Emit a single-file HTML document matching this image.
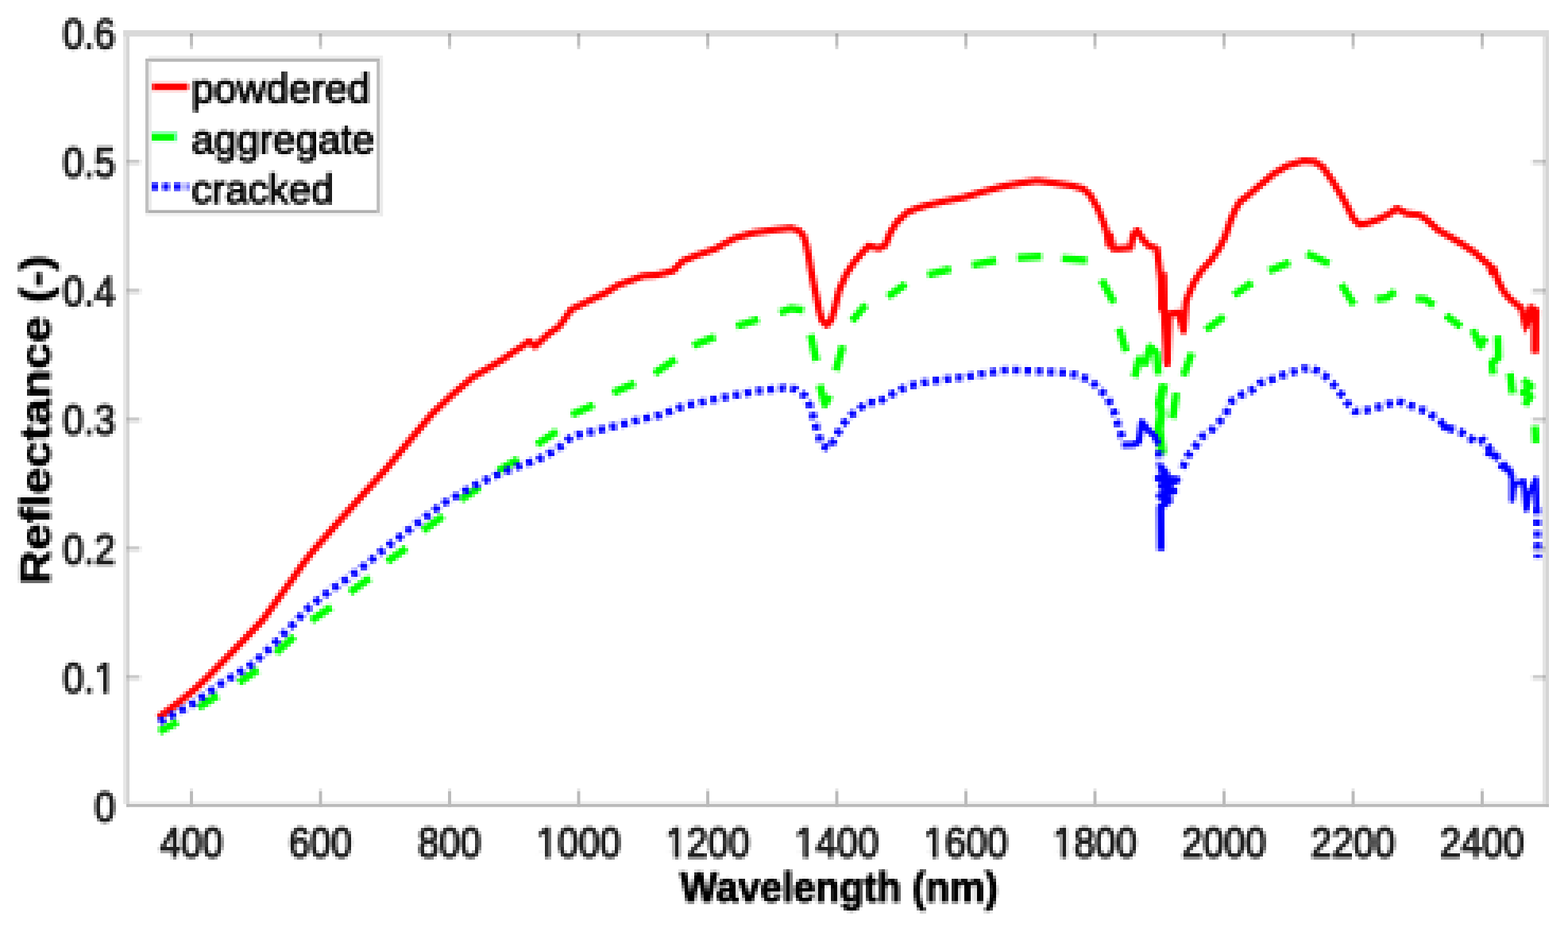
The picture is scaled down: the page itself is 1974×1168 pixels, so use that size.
<!DOCTYPE html>
<html lang="en"><head><meta charset="utf-8"><title>Reflectance spectra</title>
<style>
html,body{margin:0;padding:0;background:#fff;}
body{width:1974px;height:1168px;overflow:hidden;}
svg{display:block;font-family:"Liberation Sans",Arial,Helvetica,sans-serif;}
.tick{fill:#1e1e1e;font-size:54px;stroke:#1e1e1e;stroke-width:2.2px;stroke-linejoin:round;}
.lbl{fill:#000;font-size:54px;font-weight:bold;stroke:#000;stroke-width:1.5px;stroke-linejoin:round;}
.leg{fill:#0a0a0a;font-size:52px;stroke:#0a0a0a;stroke-width:1.9px;stroke-linejoin:round;}
</style></head><body>
<svg width="1974" height="1168" viewBox="0 0 1974 1168">
<defs><filter id="b" filterUnits="userSpaceOnUse" x="0" y="0" width="1976" height="1168" color-interpolation-filters="sRGB">
<feConvolveMatrix in="SourceGraphic" order="4" kernelMatrix="1 1 1 1 1 1 1 1 1 1 1 1 1 1 1 1" divisor="16" targetX="1" targetY="1" edgeMode="none" preserveAlpha="false" result="avg"/>
<feFlood x="3" y="3" width="1" height="1" flood-color="#000"/>
<feComposite x="2" y="2" width="4" height="4"/>
<feTile result="grid"/>
<feComposite in="avg" in2="grid" operator="in" result="sparse"/>
<feConvolveMatrix in="sparse" order="4" kernelMatrix="1 1 1 1 1 1 1 1 1 1 1 1 1 1 1 1" divisor="1" targetX="2" targetY="2" edgeMode="none" preserveAlpha="false"/>
<feGaussianBlur stdDeviation="0.55"/>
</filter><filter id="s" filterUnits="userSpaceOnUse" x="0" y="0" width="1976" height="1168"><feGaussianBlur stdDeviation="0.45"/></filter></defs>
<rect width="1974" height="1168" fill="#fff"/>
<g filter="url(#s)">
<rect x="155.10" y="38.00" width="1794.90" height="8.00" fill="#d9d9d9"/>
<rect x="155.10" y="46.00" width="3.90" height="966.00" fill="#e6e6e6"/>
<rect x="159.00" y="46.00" width="4.00" height="969.70" fill="#d5d5d5"/>
<rect x="1942.00" y="46.00" width="4.00" height="966.00" fill="#e4e4e4"/>
<rect x="1946.00" y="46.00" width="4.00" height="969.70" fill="#d5d5d5"/>
<rect x="163.00" y="1008.30" width="1779.00" height="3.70" fill="#efefef"/>
<rect x="159.00" y="1012.00" width="1791.00" height="3.70" fill="#b9b9b9"/>
<rect x="239.05" y="42.00" width="3.90" height="4.00" fill="#a8a8a8"/>
<rect x="239.05" y="46.00" width="3.90" height="11.80" fill="#bebebe"/>
<rect x="239.05" y="57.80" width="3.90" height="4.00" fill="#d4d4d4"/>
<rect x="239.05" y="992.20" width="3.90" height="3.80" fill="#e6e6e6"/>
<rect x="239.05" y="996.00" width="3.90" height="19.70" fill="#bababa"/>
<rect x="401.55" y="42.00" width="3.90" height="4.00" fill="#a8a8a8"/>
<rect x="401.55" y="46.00" width="3.90" height="11.80" fill="#bebebe"/>
<rect x="401.55" y="57.80" width="3.90" height="4.00" fill="#d4d4d4"/>
<rect x="401.55" y="992.20" width="3.90" height="3.80" fill="#e6e6e6"/>
<rect x="401.55" y="996.00" width="3.90" height="19.70" fill="#bababa"/>
<rect x="564.05" y="42.00" width="3.90" height="4.00" fill="#a8a8a8"/>
<rect x="564.05" y="46.00" width="3.90" height="11.80" fill="#bebebe"/>
<rect x="564.05" y="57.80" width="3.90" height="4.00" fill="#d4d4d4"/>
<rect x="564.05" y="992.20" width="3.90" height="3.80" fill="#e6e6e6"/>
<rect x="564.05" y="996.00" width="3.90" height="19.70" fill="#bababa"/>
<rect x="726.55" y="42.00" width="3.90" height="4.00" fill="#a8a8a8"/>
<rect x="726.55" y="46.00" width="3.90" height="11.80" fill="#bebebe"/>
<rect x="726.55" y="57.80" width="3.90" height="4.00" fill="#d4d4d4"/>
<rect x="726.55" y="992.20" width="3.90" height="3.80" fill="#e6e6e6"/>
<rect x="726.55" y="996.00" width="3.90" height="19.70" fill="#bababa"/>
<rect x="889.05" y="42.00" width="3.90" height="4.00" fill="#a8a8a8"/>
<rect x="889.05" y="46.00" width="3.90" height="11.80" fill="#bebebe"/>
<rect x="889.05" y="57.80" width="3.90" height="4.00" fill="#d4d4d4"/>
<rect x="889.05" y="992.20" width="3.90" height="3.80" fill="#e6e6e6"/>
<rect x="889.05" y="996.00" width="3.90" height="19.70" fill="#bababa"/>
<rect x="1051.55" y="42.00" width="3.90" height="4.00" fill="#a8a8a8"/>
<rect x="1051.55" y="46.00" width="3.90" height="11.80" fill="#bebebe"/>
<rect x="1051.55" y="57.80" width="3.90" height="4.00" fill="#d4d4d4"/>
<rect x="1051.55" y="992.20" width="3.90" height="3.80" fill="#e6e6e6"/>
<rect x="1051.55" y="996.00" width="3.90" height="19.70" fill="#bababa"/>
<rect x="1214.05" y="42.00" width="3.90" height="4.00" fill="#a8a8a8"/>
<rect x="1214.05" y="46.00" width="3.90" height="11.80" fill="#bebebe"/>
<rect x="1214.05" y="57.80" width="3.90" height="4.00" fill="#d4d4d4"/>
<rect x="1214.05" y="992.20" width="3.90" height="3.80" fill="#e6e6e6"/>
<rect x="1214.05" y="996.00" width="3.90" height="19.70" fill="#bababa"/>
<rect x="1376.55" y="42.00" width="3.90" height="4.00" fill="#a8a8a8"/>
<rect x="1376.55" y="46.00" width="3.90" height="11.80" fill="#bebebe"/>
<rect x="1376.55" y="57.80" width="3.90" height="4.00" fill="#d4d4d4"/>
<rect x="1376.55" y="992.20" width="3.90" height="3.80" fill="#e6e6e6"/>
<rect x="1376.55" y="996.00" width="3.90" height="19.70" fill="#bababa"/>
<rect x="1539.05" y="42.00" width="3.90" height="4.00" fill="#a8a8a8"/>
<rect x="1539.05" y="46.00" width="3.90" height="11.80" fill="#bebebe"/>
<rect x="1539.05" y="57.80" width="3.90" height="4.00" fill="#d4d4d4"/>
<rect x="1539.05" y="992.20" width="3.90" height="3.80" fill="#e6e6e6"/>
<rect x="1539.05" y="996.00" width="3.90" height="19.70" fill="#bababa"/>
<rect x="1701.55" y="42.00" width="3.90" height="4.00" fill="#a8a8a8"/>
<rect x="1701.55" y="46.00" width="3.90" height="11.80" fill="#bebebe"/>
<rect x="1701.55" y="57.80" width="3.90" height="4.00" fill="#d4d4d4"/>
<rect x="1701.55" y="992.20" width="3.90" height="3.80" fill="#e6e6e6"/>
<rect x="1701.55" y="996.00" width="3.90" height="19.70" fill="#bababa"/>
<rect x="1864.05" y="42.00" width="3.90" height="4.00" fill="#a8a8a8"/>
<rect x="1864.05" y="46.00" width="3.90" height="11.80" fill="#bebebe"/>
<rect x="1864.05" y="57.80" width="3.90" height="4.00" fill="#d4d4d4"/>
<rect x="1864.05" y="992.20" width="3.90" height="3.80" fill="#e6e6e6"/>
<rect x="1864.05" y="996.00" width="3.90" height="19.70" fill="#bababa"/>
<rect x="159.00" y="849.73" width="4.00" height="3.80" fill="#b6b6b6"/>
<rect x="163.00" y="849.73" width="12.00" height="3.80" fill="#cacaca"/>
<rect x="175.00" y="849.73" width="4.00" height="3.80" fill="#ededed"/>
<rect x="159.00" y="853.53" width="4.00" height="3.90" fill="#cacaca"/>
<rect x="163.00" y="853.53" width="12.00" height="3.90" fill="#e6e6e6"/>
<rect x="175.00" y="853.53" width="4.00" height="3.90" fill="#f6f6f6"/>
<rect x="1926.00" y="849.73" width="4.00" height="3.80" fill="#f4f4f4"/>
<rect x="1930.00" y="849.73" width="12.00" height="3.80" fill="#cccccc"/>
<rect x="1942.00" y="849.73" width="4.00" height="3.80" fill="#b8b8b8"/>
<rect x="1926.00" y="853.53" width="4.00" height="3.90" fill="#f8f8f8"/>
<rect x="1930.00" y="853.53" width="12.00" height="3.90" fill="#e8e8e8"/>
<rect x="1942.00" y="853.53" width="4.00" height="3.90" fill="#cecece"/>
<rect x="159.00" y="687.56" width="4.00" height="3.80" fill="#b6b6b6"/>
<rect x="163.00" y="687.56" width="12.00" height="3.80" fill="#cacaca"/>
<rect x="175.00" y="687.56" width="4.00" height="3.80" fill="#ededed"/>
<rect x="159.00" y="691.36" width="4.00" height="3.90" fill="#cacaca"/>
<rect x="163.00" y="691.36" width="12.00" height="3.90" fill="#e6e6e6"/>
<rect x="175.00" y="691.36" width="4.00" height="3.90" fill="#f6f6f6"/>
<rect x="1926.00" y="687.56" width="4.00" height="3.80" fill="#f4f4f4"/>
<rect x="1930.00" y="687.56" width="12.00" height="3.80" fill="#cccccc"/>
<rect x="1942.00" y="687.56" width="4.00" height="3.80" fill="#b8b8b8"/>
<rect x="1926.00" y="691.36" width="4.00" height="3.90" fill="#f8f8f8"/>
<rect x="1930.00" y="691.36" width="12.00" height="3.90" fill="#e8e8e8"/>
<rect x="1942.00" y="691.36" width="4.00" height="3.90" fill="#cecece"/>
<rect x="159.00" y="525.39" width="4.00" height="3.80" fill="#b6b6b6"/>
<rect x="163.00" y="525.39" width="12.00" height="3.80" fill="#cacaca"/>
<rect x="175.00" y="525.39" width="4.00" height="3.80" fill="#ededed"/>
<rect x="159.00" y="529.19" width="4.00" height="3.90" fill="#cacaca"/>
<rect x="163.00" y="529.19" width="12.00" height="3.90" fill="#e6e6e6"/>
<rect x="175.00" y="529.19" width="4.00" height="3.90" fill="#f6f6f6"/>
<rect x="1926.00" y="525.39" width="4.00" height="3.80" fill="#f4f4f4"/>
<rect x="1930.00" y="525.39" width="12.00" height="3.80" fill="#cccccc"/>
<rect x="1942.00" y="525.39" width="4.00" height="3.80" fill="#b8b8b8"/>
<rect x="1926.00" y="529.19" width="4.00" height="3.90" fill="#f8f8f8"/>
<rect x="1930.00" y="529.19" width="12.00" height="3.90" fill="#e8e8e8"/>
<rect x="1942.00" y="529.19" width="4.00" height="3.90" fill="#cecece"/>
<rect x="159.00" y="363.22" width="4.00" height="3.80" fill="#b6b6b6"/>
<rect x="163.00" y="363.22" width="12.00" height="3.80" fill="#cacaca"/>
<rect x="175.00" y="363.22" width="4.00" height="3.80" fill="#ededed"/>
<rect x="159.00" y="367.02" width="4.00" height="3.90" fill="#cacaca"/>
<rect x="163.00" y="367.02" width="12.00" height="3.90" fill="#e6e6e6"/>
<rect x="175.00" y="367.02" width="4.00" height="3.90" fill="#f6f6f6"/>
<rect x="1926.00" y="363.22" width="4.00" height="3.80" fill="#f4f4f4"/>
<rect x="1930.00" y="363.22" width="12.00" height="3.80" fill="#cccccc"/>
<rect x="1942.00" y="363.22" width="4.00" height="3.80" fill="#b8b8b8"/>
<rect x="1926.00" y="367.02" width="4.00" height="3.90" fill="#f8f8f8"/>
<rect x="1930.00" y="367.02" width="12.00" height="3.90" fill="#e8e8e8"/>
<rect x="1942.00" y="367.02" width="4.00" height="3.90" fill="#cecece"/>
<rect x="159.00" y="201.05" width="4.00" height="3.80" fill="#b6b6b6"/>
<rect x="163.00" y="201.05" width="12.00" height="3.80" fill="#cacaca"/>
<rect x="175.00" y="201.05" width="4.00" height="3.80" fill="#ededed"/>
<rect x="159.00" y="204.85" width="4.00" height="3.90" fill="#cacaca"/>
<rect x="163.00" y="204.85" width="12.00" height="3.90" fill="#e6e6e6"/>
<rect x="175.00" y="204.85" width="4.00" height="3.90" fill="#f6f6f6"/>
<rect x="1926.00" y="201.05" width="4.00" height="3.80" fill="#f4f4f4"/>
<rect x="1930.00" y="201.05" width="12.00" height="3.80" fill="#cccccc"/>
<rect x="1942.00" y="201.05" width="4.00" height="3.80" fill="#b8b8b8"/>
<rect x="1926.00" y="204.85" width="4.00" height="3.90" fill="#f8f8f8"/>
<rect x="1930.00" y="204.85" width="12.00" height="3.90" fill="#e8e8e8"/>
<rect x="1942.00" y="204.85" width="4.00" height="3.90" fill="#cecece"/>
<rect x="187.00" y="69.90" width="295.20" height="3.80" fill="#ededed"/>
<rect x="183.00" y="73.70" width="295.10" height="4.00" fill="#b6b6b6"/>
<rect x="183.00" y="77.70" width="4.00" height="190.60" fill="#c0c0c0"/>
<rect x="187.00" y="77.70" width="3.90" height="186.70" fill="#ebebeb"/>
<rect x="474.20" y="77.70" width="3.90" height="190.60" fill="#bdbdbd"/>
<rect x="478.10" y="73.70" width="4.10" height="198.70" fill="#ebebeb"/>
<rect x="187.00" y="264.40" width="287.20" height="3.90" fill="#b0b0b0"/>
<rect x="183.00" y="268.30" width="295.10" height="4.10" fill="#f2f2f2"/>
<rect x="191.00" y="101.60" width="45.00" height="3.70" fill="#ffdcdc"/>
<rect x="191.00" y="113.30" width="45.00" height="3.70" fill="#ffe2e2"/>
<rect x="238.90" y="105.30" width="3.60" height="8.00" fill="#ffe8e8"/>
<rect x="191.00" y="105.30" width="4.00" height="8.00" fill="#ff3030"/>
<rect x="195.00" y="105.30" width="40.00" height="8.00" fill="#ff0000"/>
<rect x="235.00" y="105.30" width="3.90" height="8.00" fill="#ff8080"/>
<rect x="191.00" y="165.00" width="32.20" height="3.80" fill="#8cffb0"/>
<rect x="191.00" y="177.00" width="32.20" height="3.60" fill="#e2ffea"/>
<rect x="191.00" y="168.80" width="28.20" height="8.20" fill="#00ff00"/>
<rect x="219.20" y="168.80" width="4.00" height="8.20" fill="#5cff98"/>
<rect x="191.00" y="229.00" width="8.00" height="4.00" fill="#5050ff"/>
<rect x="191.00" y="233.00" width="8.00" height="4.00" fill="#0808ff"/>
<rect x="191.00" y="237.00" width="8.00" height="3.70" fill="#5050ff"/>
<rect x="203.00" y="229.00" width="4.00" height="4.00" fill="#a0a0ff"/>
<rect x="203.00" y="233.00" width="4.00" height="4.00" fill="#6060ff"/>
<rect x="203.00" y="237.00" width="4.00" height="3.70" fill="#a0a0ff"/>
<rect x="207.00" y="229.00" width="4.00" height="4.00" fill="#5050ff"/>
<rect x="207.00" y="233.00" width="4.00" height="4.00" fill="#0000ff"/>
<rect x="207.00" y="237.00" width="4.00" height="3.70" fill="#5050ff"/>
<rect x="211.00" y="229.00" width="4.00" height="4.00" fill="#a8a8ff"/>
<rect x="211.00" y="233.00" width="4.00" height="4.00" fill="#7070ff"/>
<rect x="211.00" y="237.00" width="4.00" height="3.70" fill="#a8a8ff"/>
<rect x="219.00" y="229.00" width="8.30" height="4.00" fill="#5858ff"/>
<rect x="219.00" y="233.00" width="8.30" height="4.00" fill="#0808ff"/>
<rect x="219.00" y="237.00" width="8.30" height="3.70" fill="#5858ff"/>
<rect x="227.30" y="229.00" width="7.70" height="4.00" fill="#d0d0ff"/>
<rect x="227.30" y="233.00" width="7.70" height="4.00" fill="#b8b8ff"/>
<rect x="227.30" y="237.00" width="7.70" height="3.70" fill="#d0d0ff"/>
<rect x="235.00" y="229.00" width="4.00" height="4.00" fill="#b0b0ff"/>
<rect x="235.00" y="233.00" width="4.00" height="4.00" fill="#8080ff"/>
<rect x="235.00" y="237.00" width="4.00" height="3.70" fill="#b0b0ff"/>
</g>
<g filter="url(#b)">
<g class="tick">
<text transform="translate(241.0 1079.3) scale(0.885 1)" text-anchor="middle">400</text>
<text transform="translate(403.5 1079.3) scale(0.885 1)" text-anchor="middle">600</text>
<text transform="translate(566.0 1079.3) scale(0.885 1)" text-anchor="middle">800</text>
<text transform="translate(728.5 1079.3) scale(0.885 1)" text-anchor="middle">1000</text>
<text transform="translate(891.0 1079.3) scale(0.885 1)" text-anchor="middle">1200</text>
<text transform="translate(1053.5 1079.3) scale(0.885 1)" text-anchor="middle">1400</text>
<text transform="translate(1216.0 1079.3) scale(0.885 1)" text-anchor="middle">1600</text>
<text transform="translate(1378.5 1079.3) scale(0.885 1)" text-anchor="middle">1800</text>
<text transform="translate(1541.0 1079.3) scale(0.885 1)" text-anchor="middle">2000</text>
<text transform="translate(1703.5 1079.3) scale(0.885 1)" text-anchor="middle">2200</text>
<text transform="translate(1866.0 1079.3) scale(0.885 1)" text-anchor="middle">2400</text>
<text transform="translate(145.3 1033.8) scale(0.885 1)" text-anchor="end">0</text>
<text transform="translate(145.3 871.6) scale(0.885 1)" text-anchor="end">0.1</text>
<text transform="translate(145.3 709.5) scale(0.885 1)" text-anchor="end">0.2</text>
<text transform="translate(145.3 547.3) scale(0.885 1)" text-anchor="end">0.3</text>
<text transform="translate(145.3 385.1) scale(0.885 1)" text-anchor="end">0.4</text>
<text transform="translate(145.3 222.9) scale(0.885 1)" text-anchor="end">0.5</text>
<text transform="translate(145.3 60.8) scale(0.885 1)" text-anchor="end">0.6</text>
<rect x="677.27" y="1073.56" width="9.06" height="7.54" fill="#fff" stroke="none"/>
<rect x="692.58" y="1073.56" width="9.06" height="7.54" fill="#fff" stroke="none"/>
<rect x="839.77" y="1073.56" width="9.06" height="7.54" fill="#fff" stroke="none"/>
<rect x="855.08" y="1073.56" width="9.06" height="7.54" fill="#fff" stroke="none"/>
<rect x="1002.27" y="1073.56" width="9.06" height="7.54" fill="#fff" stroke="none"/>
<rect x="1017.58" y="1073.56" width="9.06" height="7.54" fill="#fff" stroke="none"/>
<rect x="1164.77" y="1073.56" width="9.06" height="7.54" fill="#fff" stroke="none"/>
<rect x="1180.08" y="1073.56" width="9.06" height="7.54" fill="#fff" stroke="none"/>
<rect x="1327.27" y="1073.56" width="9.06" height="7.54" fill="#fff" stroke="none"/>
<rect x="1342.58" y="1073.56" width="9.06" height="7.54" fill="#fff" stroke="none"/>
<rect x="120.64" y="865.89" width="9.06" height="7.54" fill="#fff" stroke="none"/>
<rect x="135.95" y="865.89" width="9.06" height="7.54" fill="#fff" stroke="none"/>
</g>
<text class="lbl" transform="translate(1056.5 1135) scale(0.925 1)" text-anchor="middle">Wavelength (nm)</text>
<text class="lbl" style="stroke-width:0.9px" transform="translate(63 528.5) rotate(-90) scale(1.115 0.98)" text-anchor="middle">Reflectance (-)</text>
<polyline fill="none" stroke="#ff0000" stroke-width="8.6" stroke-linejoin="round" points="199.3,903.2 213.5,892.7 227.7,881.9 244.7,867.9 260.5,853.2 283.0,830.2 307.0,805.5 331.0,780.0 355.3,746.5 368.5,728.5 380.5,711.0 392.8,695.0 422.6,660.9 452.3,627.6 486.8,589.5 517.8,552.1 543.6,521.2 569.5,496.7 595.3,474.8 620.0,460.2 632.2,452.9 644.3,444.4 656.5,436.5 662.6,432.0 666.2,429.6 673.5,435.8 691.5,419.5 703.3,411.5 710.6,401.8 719.1,389.6 731.4,383.6 743.6,377.5 761.8,369.0 778.1,358.8 796.3,352.2 809.7,347.3 826.7,346.1 838.8,343.2 848.0,340.5 853.5,334.5 859.5,328.5 876.1,321.7 900.4,313.2 924.7,299.8 949.1,292.9 973.4,289.5 995.6,287.1 1005.3,290.0 1011.4,296.5 1015.1,308.4 1018.1,322.9 1021.2,341.2 1024.8,359.4 1028.5,376.4 1031.5,391.8 1035.0,403.5 1040.8,409.1 1046.5,402.6 1051.3,386.4 1056.4,365.4 1065.7,344.3 1075.4,329.7 1086.7,316.7 1093.5,309.4 1106.4,312.7 1114.5,308.6 1121.0,292.4 1129.1,279.5 1142.1,267.3 1155.1,262.1 1164.3,259.1 1188.6,253.4 1212.9,248.6 1237.3,241.3 1261.6,234.8 1285.9,230.2 1305.4,227.5 1324.8,230.0 1349.1,233.7 1363.7,237.6 1372.0,245.0 1382.0,262.0 1389.5,281.0 1393.5,293.0 1396.0,308.0 1397.5,296.0 1401.5,313.0 1407.5,313.1 1423.3,311.9 1426.9,294.8 1431.8,290.0 1439.1,302.1 1446.4,309.4 1456.5,313.0 1459.9,339.7 1463.5,365.3 1465.5,392.1 1469.3,458.0 1472.0,395.0 1484.0,393.5 1489.9,416.5 1493.3,379.0 1495.9,372.2 1503.2,355.1 1513.3,339.7 1525.6,326.4 1535.3,311.9 1542.6,297.3 1548.7,279.0 1554.8,264.4 1560.8,254.0 1570.6,246.5 1583.2,235.8 1603.6,218.6 1620.8,208.5 1641.1,202.4 1655.2,203.4 1665.4,210.5 1675.5,224.7 1685.6,240.9 1695.8,259.2 1703.9,275.3 1712.0,282.8 1722.1,280.8 1736.3,275.7 1748.4,269.5 1758.6,262.4 1770.7,268.7 1786.9,270.7 1795.1,275.7 1803.0,282.8 1810.8,289.8 1826.2,298.5 1841.6,307.8 1857.1,318.1 1869.4,329.3 1875.5,334.0 1878.0,343.0 1880.5,338.0 1886.3,354.0 1892.5,366.3 1900.2,375.5 1909.4,383.2 1915.6,387.9 1921.0,411.0 1927.2,387.0 1934.1,391.0 1932.6,445.0"/>
<polyline fill="none" stroke="#ff0000" stroke-width="12" points="1463.2,343.0 1464.2,392.0"/>
<polyline fill="none" stroke="#ff0000" stroke-width="10" points="1469.3,392.0 1469.3,455.0"/>
<polyline fill="none" stroke="#ff0000" stroke-width="10" points="1932.6,394.0 1932.6,443.0"/>
<polyline fill="none" stroke="#ff0000" stroke-width="10" points="1920.0,393.0 1922.0,405.0 1928.0,393.0 1933.0,396.0"/>
<g fill="none" stroke="#00ff00" stroke-width="9.4" stroke-linejoin="round">
<polyline points="200.3,920.9 223.6,908.7"/>
<polyline points="249.9,890.5 274.2,875.3"/>
<polyline points="300.6,859.1 324.9,842.9"/>
<polyline points="347.2,821.6 370.5,801.3"/>
<polyline points="391.8,781.1 417.1,763.8"/>
<polyline points="440.4,745.6 465.7,727.4"/>
<polyline points="487.3,706.8 511.6,689.8"/>
<polyline points="532.3,667.9 557.8,649.7"/>
<polyline points="579.7,629.0 604.0,613.2"/>
<polyline points="627.1,592.5 652.6,577.9"/>
<polyline points="675.7,559.7 701.3,542.7"/>
<polyline points="719.5,522.0 747.5,509.8"/>
<polyline points="771.6,494.4 799.5,482.2"/>
<polyline points="823.8,470.1 850.6,451.8"/>
<polyline points="872.5,434.8 900.4,423.9"/>
<polyline points="927.2,410.5 955.1,402.0"/>
<polyline points="981.6,393.7 996.2,388.1 1011.6,390.5"/>
<polyline points="1020.5,421.1 1027.8,454.3"/>
<polyline points="1031.9,484.3 1038.5,509.0 1044.8,498.0"/>
<polyline points="1052.1,466.5 1061.1,434.9"/>
<polyline points="1072.4,404.3 1090.2,383.2"/>
<polyline points="1117.8,373.5 1140.5,357.3"/>
<polyline points="1168.0,345.9 1197.1,338.6"/>
<polyline points="1223.9,333.7 1254.3,327.7"/>
<polyline points="1281.0,324.5 1311.4,322.8"/>
<polyline points="1337.0,325.2 1368.6,327.7"/>
<polyline points="1386.8,352.0 1402.6,381.2"/>
<polyline points="1408.9,413.2 1417.8,442.4"/>
<polyline points="1428.3,474.8 1434.0,452.1 1442.1,457.0 1447.8,436.7 1455.9,444.0 1458.3,471.6"/>
<polyline stroke-width="11.5" points="1465.6,482.9 1459.5,507.3 1462.0,520.0 1459.0,539.7 1463.2,572.1"/>
<polyline points="1476.2,526.7 1481.0,494.3"/>
<polyline points="1489.9,473.2 1500.5,444.0"/>
<polyline points="1518.1,415.2 1541.2,398.2"/>
<polyline points="1553.4,371.4 1576.5,355.6"/>
<polyline points="1597.5,341.2 1623.8,330.1"/>
<polyline points="1645.1,318.9 1673.5,332.1"/>
<polyline points="1688.6,357.8 1704.8,383.8"/>
<polyline points="1732.4,376.5 1745.4,374.9 1756.7,366.7"/>
<polyline points="1782.6,375.7 1794.0,376.5 1805.3,384.6"/>
<polyline points="1820.0,396.7 1839.4,411.3"/>
<polyline points="1854.0,414.6 1863.7,435.6 1870.2,424.3"/>
<polyline points="1885.6,422.7 1886.4,450.2 1878.3,456.7 1879.9,471.3"/>
<polyline points="1901.0,469.7 1904.2,495.6"/>
<polyline points="1917.5,478.0 1927.5,486.0 1917.5,494.0 1927.0,499.0 1919.0,510.0"/>
<polyline points="1932.4,535.9 1933.6,557.4"/>
</g>
<polyline fill="none" stroke="#0000ff" stroke-width="9.4" stroke-dasharray="8.4 6.2" points="200.3,908.7 238.8,888.4 277.3,861.1 314.8,837.8 338.1,817.5 369.5,785.1 390.7,762.8 415.0,743.6 438.4,727.4 462.7,709.1 484.9,689.8 521.3,661.8 557.8,633.9 595.5,612.0 621.0,599.8 650.2,587.7 675.7,579.1 701.3,565.8 720.7,548.8 748.7,542.7 777.9,535.4 805.8,528.1 832.6,522.0 860.5,511.1 888.5,505.0 917.7,498.9 956.6,491.6 988.1,488.3 1001.9,490.0 1014.0,498.9 1020.5,512.7 1025.1,528.9 1029.4,544.3 1034.3,560.5 1044.0,564.5 1051.3,550.8 1059.4,537.0 1068.3,524.8 1080.5,515.9 1091.0,506.2 1104.8,507.0 1117.8,498.9 1130.8,491.6 1143.7,485.9 1158.3,482.7 1172.1,479.4 1186.7,478.6 1200.5,475.4 1215.0,475.4 1228.8,471.3 1244.2,469.7 1258.0,466.5 1271.8,465.6 1285.9,466.3 1315.1,467.5 1343.2,469.2 1357.0,472.4 1371.6,478.1 1383.0,487.8 1392.7,499.2 1400.8,512.9 1405.6,528.3 1410.5,543.7 1413.0,552.0"/>
<polyline fill="none" stroke="#0000ff" stroke-width="8" stroke-linejoin="round" points="1412.5,560.0 1427.5,559.5 1433.8,556.0 1437.5,531.0 1445.0,541.0 1453.8,549.0 1458.8,560.0"/>
<polyline fill="none" stroke="#0000ff" stroke-width="9.4" stroke-dasharray="8.4 6.2" points="1459.0,567.0 1459.0,584.0"/>
<polyline fill="none" stroke="#0000ff" stroke-width="9.5" stroke-linejoin="round" points="1459.0,586.0 1468.0,596.0 1458.0,602.0 1482.0,604.0 1462.0,612.0 1478.0,618.0 1460.0,624.0 1472.0,630.0 1461.0,638.0 1461.5,693.0"/>
<polyline fill="none" stroke="#0000ff" stroke-width="9.4" stroke-dasharray="8.4 6.2" points="1488.8,589.2 1495.6,573.7 1504.5,562.4 1513.4,549.4 1525.6,541.3 1536.1,530.0 1544.2,518.6 1550.7,504.8 1562.9,496.7 1575.9,491.1 1586.4,482.1 1600.2,478.1 1613.9,472.4 1626.9,468.4 1640.0,464.0 1653.2,464.0 1666.4,471.2 1677.2,481.9 1686.7,493.9 1695.1,505.9 1705.9,517.9 1719.1,516.7 1732.3,513.1 1745.5,509.5 1758.6,504.7 1770.6,508.3 1782.6,513.1 1795.8,517.9 1807.8,526.3 1822.2,538.3 1837.7,543.1 1849.7,550.3 1858.1,557.4 1867.7,553.9 1879.7,570.6 1894.1,586.2 1903.7,598.2"/>
<polyline fill="none" stroke="#0000ff" stroke-width="7" stroke-linejoin="round" points="1903.7,598.2 1903.7,629.4 1906.1,610.2 1918.0,605.4 1921.6,641.3 1925.2,622.2 1933.6,603.0 1934.8,638.9"/>
<polyline fill="none" stroke="#0000ff" stroke-width="8.5" points="1815.0,536.5 1829.0,541.0"/>
<polyline fill="none" stroke="#0000ff" stroke-width="8.5" points="1870.0,569.5 1887.0,574.0"/>
<polyline fill="none" stroke="#0000ff" stroke-width="8.5" points="1887.0,585.0 1903.0,593.5"/>
<polyline fill="none" stroke="#0000ff" stroke-width="9.4" stroke-dasharray="8.4 6.2" points="1934.8,638.9 1936.0,702.5"/>
<g class="leg">
<text transform="translate(241 128.5) scale(0.985 1)">powdered</text>
<text transform="translate(241 192.5) scale(0.985 1)">aggregate</text>
<text transform="translate(241 255.5) scale(0.985 1)">cracked</text>
</g>
</g>
</svg></body></html>
